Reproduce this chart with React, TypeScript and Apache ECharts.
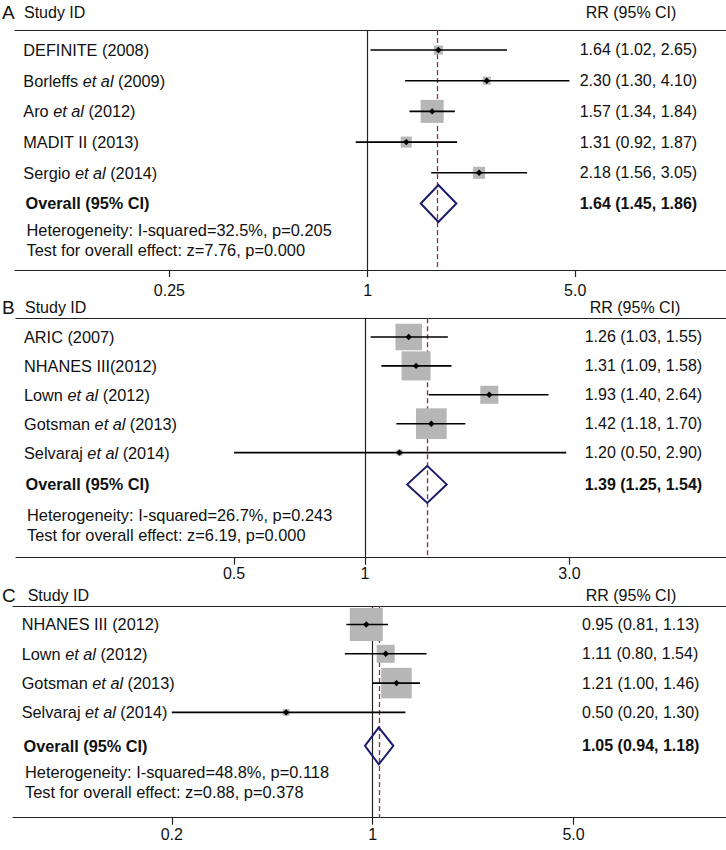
import React, { useEffect, useRef } from "react";
import * as echarts from "echarts";

const FONT = "'Liberation Sans', Arial, Helvetica, sans-serif";

// ---------- Panel A ----------
const namesA = ["DEFINITE (2008)", "Borleffs et al (2009)", "Aro et al (2012)", "MADIT II (2013)", "Sergio et al (2014)"];
const rrA = [1.64, 2.3, 1.57, 1.31, 2.18];
const loA = [1.02, 1.3, 1.34, 0.92, 1.56];
const hiA = [2.65, 4.1, 1.84, 1.87, 3.05];
const weightsA = [8.6, 6.8, 56.3, 12.9, 15.3];
const overallA = [1.64, 1.45, 1.86];
const statsA = ["Heterogeneity: I-squared=32.5%, p=0.205", "Test for overall effect: z=7.76, p=0.000"];
const tickLabelsA = ["0.25", "1", "5.0"];
const tickValuesA = [0.25, 1, 4.27]; // where the original figure draws its ticks

// ---------- Panel B ----------
const namesB = ["ARIC (2007)", "NHANES III(2012)", "Lown et al (2012)", "Gotsman et al (2013)", "Selvaraj et al (2014)"];
const rrB = [1.26, 1.31, 1.93, 1.42, 1.2];
const loB = [1.03, 1.09, 1.4, 1.18, 0.5];
const hiB = [1.55, 1.58, 2.64, 1.7, 2.9];
const weightsB = [24.7, 29.6, 11.4, 33.1, 1.3];
const overallB = [1.39, 1.25, 1.54];
const statsB = ["Heterogeneity: I-squared=26.7%, p=0.243", "Test for overall effect: z=6.19, p=0.000"];
const tickLabelsB = ["0.5", "1", "3.0"];
const tickValuesB = [0.5, 1, 2.95];

// ---------- Panel C ----------
const namesC = ["NHANES III (2012)", "Lown et al (2012)", "Gotsman et al (2013)", "Selvaraj et al (2014)"];
const rrC = [0.95, 1.11, 1.21, 0.5];
const loC = [0.81, 0.8, 1.0, 0.2];
const hiC = [1.13, 1.54, 1.46, 1.3];
const weightsC = [45.6, 13.6, 38.9, 1.9];
const overallC = [1.05, 0.94, 1.18];
const statsC = ["Heterogeneity: I-squared=48.8%, p=0.118", "Test for overall effect: z=0.88, p=0.378"];
const tickLabelsC = ["0.2", "1", "5.0"];
const tickValuesC = [0.2, 1, 5];

const panels = [
  {
    letter: "A", names: namesA, rr: rrA, lo: loA, hi: hiA, w: weightsA, overall: overallA, stats: statsA,
    tickLabels: tickLabelsA, tickValues: tickValuesA,
    L: { top: 30, height: 240, left: 15, xMin: -2.466, xMax: 2.506, yMin: -0.651, yMax: 7.166, overallGap: 0,
      boxScale: 3.07, nameX: 23.3, overallX: 25.5, rrX: 579.7, headY: 12, letterY: 12, studyX: 24, rrHeadX: 585.7,
      statX: 26.5, statY: [229.5, 249.5], labelMargin: 12.5 },
  },
  {
    letter: "B", names: namesB, rr: rrB, lo: loB, hi: hiB, w: weightsB, overall: overallB, stats: statsB,
    tickLabels: tickLabelsB, tickValues: tickValuesB,
    L: { top: 318.3, height: 239.4, left: 16, xMin: -1.847, xMax: 1.91, yMin: -0.647, yMax: 7.637, overallGap: 0.1,
      boxScale: 5.34, nameX: 24, overallX: 25.5, rrX: 584.7, headY: 307, letterY: 307, studyX: 25, rrHeadX: 589.7,
      statX: 27, statY: [515, 535], labelMargin: 8 },
  },
  {
    letter: "C", names: namesC, rr: rrC, lo: loC, hi: hiC, w: weightsC, overall: overallC, stats: statsC,
    tickLabels: tickLabelsC, tickValues: tickValuesC,
    L: { top: 606, height: 211.7, left: 13, xMin: -2.882, xMax: 2.831, yMin: -0.631, yMax: 6.594, overallGap: 0.14,
      boxScale: 4.89, nameX: 21.7, overallX: 23.5, rrX: 582, headY: 595, letterY: 595, studyX: 27.7, rrHeadX: 585.7,
      statX: 25, statY: [771.7, 791.7], labelMargin: 9 },
  },
];

const TEXT = "#111";
const BOX = "#b6b6b6";
const NAVY = "#1c1c6c";
const DASH = "#9a2a3a";
const AXIS = "#222";
const FS = 16.3;

function richName(name: string) {
  const parts = name.split("et al");
  if (parts.length === 2) return `{n|${parts[0]}}{i|et al}{n|${parts[1]}}`;
  return `{n|${name}}`;
}
const fmt = (a: number, b: number, c: number) => `${a.toFixed(2)} (${b.toFixed(2)}, ${c.toFixed(2)})`;

function buildOption() {
  const grid: any[] = [];
  const xAxis: any[] = [];
  const yAxis: any[] = [];
  const series: any[] = [];
  const graphic: any[] = [];

  panels.forEach((p, pi) => {
    const L = p.L;
    grid.push({ left: L.left, right: 0, top: L.top, height: L.height, containLabel: false });
    const tickLn = p.tickValues.map((v) => Math.log(v));
    xAxis.push({
      gridIndex: pi, type: "value", min: L.xMin, max: L.xMax, position: "bottom",
      axisLine: { show: true, onZero: false, lineStyle: { color: AXIS, width: 1.2 } },
      axisTick: { show: true, length: 7, customValues: tickLn, lineStyle: { color: AXIS, width: 1.2 } },
      axisLabel: {
        show: true, customValues: tickLn, margin: L.labelMargin, fontSize: 16, fontFamily: FONT, color: TEXT,
        formatter: (v: number) => {
          let best = 0;
          tickLn.forEach((t, k) => { if (Math.abs(t - v) < Math.abs(tickLn[best] - v)) best = k; });
          return p.tickLabels[best];
        },
      },
      splitLine: { show: false },
    });
    xAxis.push({
      gridIndex: pi, type: "value", min: L.xMin, max: L.xMax, position: "top",
      axisLine: { show: true, onZero: false, lineStyle: { color: AXIS, width: 1.2 } },
      axisTick: { show: false }, axisLabel: { show: false }, splitLine: { show: false },
    });
    yAxis.push({ gridIndex: pi, type: "value", inverse: true, min: L.yMin, max: L.yMax, show: false, splitLine: { show: false } });

    const n = p.names.length;
    const data: any[] = p.rr.map((v, i) => [i, v, p.lo[i], p.hi[i], p.w[i], 0]);
    data.push([n + L.overallGap, p.overall[0], p.overall[1], p.overall[2], 0, 1]);

    // reference lines (no effect and overall estimate)
    series.push({
      type: "line", xAxisIndex: pi * 2, yAxisIndex: pi, z: 1, silent: true,
      data: [[Math.log(p.overall[0]), n + L.overallGap]], symbol: "none", lineStyle: { width: 0 },
      markLine: {
        silent: true, symbol: ["none", "none"], label: { show: false }, animation: false,
        emphasis: { disabled: true },
        data: [
          { xAxis: 0, lineStyle: { color: AXIS, width: 1.2, type: "solid" } },
          { xAxis: Math.log(p.overall[0]), lineStyle: { color: DASH, width: 1.3, type: [5, 3] } },
        ],
      },
    });

    series.push({
      type: "custom", xAxisIndex: pi * 2, yAxisIndex: pi, z: 5, clip: false, silent: true,
      data,
      renderItem: (params: any, api: any) => {
        const i = params.dataIndex;
        const row = api.value(0);
        const rr = api.value(1), lo = api.value(2), hi = api.value(3), w = api.value(4);
        const isOverall = api.value(5) === 1;
        const c = api.coord([Math.log(rr), row]);
        const cl = api.coord([Math.log(lo), row]);
        const ch = api.coord([Math.log(hi), row]);
        const children: any[] = [];
        if (isOverall) {
          const h = 18.5;
          children.push({
            type: "polygon",
            shape: { points: [[cl[0], c[1]], [c[0], c[1] - h], [ch[0], c[1]], [c[0], c[1] + h]] },
            style: { fill: "none", stroke: NAVY, lineWidth: 2 },
          });
          children.push({
            type: "text", x: L.overallX, y: c[1],
            style: { text: "Overall (95% CI)", font: `bold ${FS}px ${FONT}`, fill: TEXT, verticalAlign: "middle" },
          });
          children.push({
            type: "text", x: L.rrX, y: c[1],
            style: { text: fmt(rr, lo, hi), font: `bold 16px ${FONT}`, fill: TEXT, verticalAlign: "middle" },
          });
        } else {
          const s = L.boxScale * Math.sqrt(w);
          children.push({ type: "rect", shape: { x: c[0] - s / 2, y: c[1] - s / 2, width: s, height: s }, style: { fill: BOX } });
          children.push({ type: "line", shape: { x1: cl[0], y1: c[1], x2: ch[0], y2: c[1] }, style: { stroke: "#000", lineWidth: 1.6 } });
          const d = 3.2;
          children.push({
            type: "polygon",
            shape: { points: [[c[0] - d, c[1]], [c[0], c[1] - d], [c[0] + d, c[1]], [c[0], c[1] + d]] },
            style: { fill: "#000" },
          });
          children.push({
            type: "text", x: L.nameX, y: c[1],
            style: {
              text: richName(p.names[i]), fill: TEXT, verticalAlign: "middle",
              rich: {
                n: { fontFamily: FONT, fontSize: FS, fill: TEXT },
                i: { fontFamily: FONT, fontSize: FS, fontStyle: "italic", fill: TEXT },
              },
            },
          });
          children.push({
            type: "text", x: L.rrX, y: c[1],
            style: { text: fmt(rr, lo, hi), font: `16px ${FONT}`, fill: TEXT, verticalAlign: "middle" },
          });
        }
        return { type: "group", children };
      },
    });

    graphic.push({ type: "text", x: 2, y: L.letterY, style: { text: p.letter, font: `19px ${FONT}`, fill: TEXT, verticalAlign: "middle" } });
    graphic.push({ type: "text", x: L.studyX, y: L.headY, style: { text: "Study ID", font: `16px ${FONT}`, fill: TEXT, verticalAlign: "middle" } });
    graphic.push({ type: "text", x: L.rrHeadX, y: L.headY, style: { text: "RR (95% CI)", font: `16px ${FONT}`, fill: TEXT, verticalAlign: "middle" } });
    p.stats.forEach((t, k) => {
      graphic.push({ type: "text", x: L.statX, y: L.statY[k], style: { text: t, font: `16.4px ${FONT}`, fill: TEXT, verticalAlign: "middle" } });
    });
  });

  return { animation: false, backgroundColor: "#fff", grid, xAxis, yAxis, series, graphic };
}

export default function App() {
  const ref = useRef<HTMLDivElement>(null);
  useEffect(() => {
    if (!ref.current) return;
    const chart = echarts.init(ref.current, undefined, { renderer: "svg" });
    chart.setOption(buildOption() as any);
    return () => chart.dispose();
  }, []);
  return <div ref={ref} style={{ position: "fixed", left: 0, top: 0, width: 726, height: 850, background: "#fff" }} />;
}
